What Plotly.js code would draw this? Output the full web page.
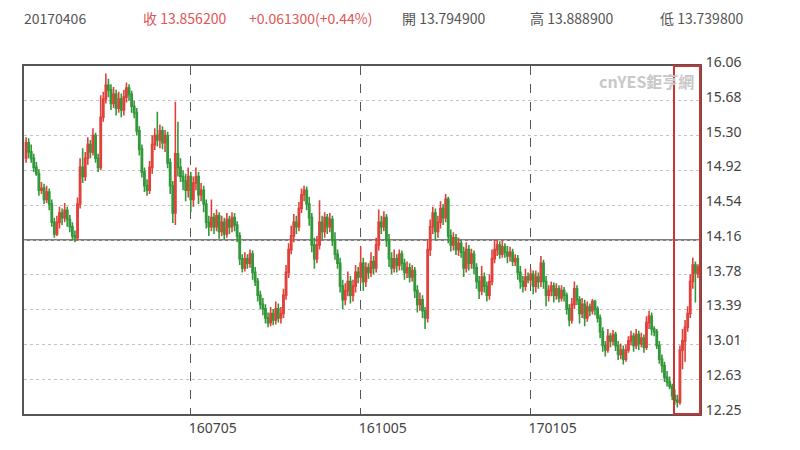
<!DOCTYPE html>
<html><head><meta charset="utf-8">
<script src="https://cdn.plot.ly/plotly-3.0.1.min.js"></script>
<style>html,body{margin:0;padding:0;background:#fff;}#chart{width:800px;height:450px;}</style>
</head><body><div id="chart"></div>
<script>
// ---- data (USD/ZAR daily, 2016-04-06 .. 2017-04-06) ----
const startDate = '2016-04-06';
const openV = [15.05,15.22,15.12,15.05,14.95,14.88,14.70,14.72,14.60,14.68,14.55,14.35,14.22,14.35,14.45,14.40,14.48,14.38,14.30,14.20,
14.18,14.55,14.95,14.85,15.05,15.20,15.12,15.30,15.05,14.95,15.50,15.70,15.85,15.80,15.65,15.75,15.60,15.70,15.58,15.72,
15.82,15.75,15.62,15.55,15.35,15.15,14.90,14.75,14.70,14.95,15.20,15.30,15.25,15.35,15.22,15.30,15.00,14.75,14.45,15.10,
14.95,14.85,14.80,14.70,14.85,14.60,14.78,14.85,14.65,14.70,14.55,14.35,14.30,14.40,14.30,14.42,14.25,14.35,14.22,14.38,
14.30,14.40,14.32,14.20,13.95,13.85,13.95,13.90,14.00,13.80,13.70,13.55,13.45,13.40,13.30,13.25,13.35,13.28,13.40,13.30,
13.35,13.55,13.80,14.05,14.20,14.35,14.30,14.50,14.65,14.70,14.55,14.40,14.10,13.95,14.10,14.35,14.25,14.40,14.30,14.38,
14.15,14.00,13.90,13.65,13.50,13.60,13.70,13.55,13.65,13.80,13.75,13.90,13.70,13.85,13.80,13.92,13.85,14.10,14.35,14.30,
14.40,14.15,13.95,13.85,13.95,13.88,14.00,13.90,13.80,13.85,13.75,13.82,13.60,13.45,13.50,13.38,13.30,14.05,14.30,14.45,
14.25,14.35,14.50,14.40,14.60,14.20,14.10,14.18,14.05,14.12,14.02,13.85,14.05,13.90,14.00,13.85,13.70,13.60,13.75,13.65,
13.55,13.70,13.95,14.05,14.10,14.00,14.08,14.02,13.98,14.02,13.92,13.95,13.80,13.70,13.65,13.75,13.72,13.78,13.65,13.75,
13.70,13.90,13.70,13.55,13.60,13.65,13.55,13.62,13.52,13.60,13.55,13.40,13.28,13.45,13.62,13.50,13.35,13.45,13.30,13.42,
13.38,13.48,13.40,13.30,13.15,13.00,12.95,13.10,13.05,13.12,13.00,12.90,12.95,12.85,12.95,13.05,13.10,13.00,13.12,13.02,
13.08,12.98,13.25,13.32,13.18,13.15,13.00,12.85,12.78,12.65,12.60,12.55,12.45,12.40,12.38,12.95,13.05,13.20,13.35,13.70,
13.88,13.7949];
const highV = [15.28,15.27,15.20,15.10,15.01,14.93,14.79,14.77,14.75,14.72,14.60,14.40,14.42,14.52,14.50,14.56,14.52,14.43,14.35,14.26,
14.62,15.05,15.16,15.12,15.28,15.25,15.38,15.33,15.10,15.74,15.78,15.98,15.92,15.86,15.83,15.80,15.78,15.76,15.80,15.88,
15.86,15.79,15.68,15.60,15.40,15.20,14.95,14.82,15.02,15.30,15.38,15.56,15.42,15.40,15.36,15.34,15.05,14.80,15.67,15.45,
15.05,14.92,14.88,14.95,14.90,14.85,14.95,14.90,14.78,14.75,14.60,14.42,14.60,14.45,14.49,14.46,14.42,14.40,14.45,14.42,
14.46,14.45,14.36,14.24,14.00,14.02,14.00,14.05,14.04,13.86,13.74,13.60,13.52,13.45,13.36,13.42,13.40,13.48,13.46,13.42,
13.62,13.88,14.12,14.31,14.44,14.42,14.57,14.72,14.75,14.74,14.63,14.45,14.18,14.20,14.59,14.42,14.46,14.44,14.45,14.42,
14.24,14.05,13.96,13.72,13.68,13.81,13.76,13.72,13.88,13.86,14.08,13.96,13.91,13.90,14.02,13.98,14.18,14.49,14.42,14.47,
14.44,14.22,14.02,14.05,14.00,14.05,14.04,13.95,13.92,13.90,13.88,13.86,13.66,13.58,13.55,13.42,14.16,14.38,14.52,14.50,
14.42,14.58,14.55,14.66,14.63,14.27,14.24,14.22,14.18,14.16,14.08,14.13,14.10,14.06,14.04,13.90,13.76,13.87,13.80,13.70,
13.78,14.05,14.16,14.16,14.14,14.15,14.12,14.09,14.08,14.06,14.00,13.99,13.87,13.76,13.84,13.80,13.84,13.82,13.82,13.80,
13.98,13.94,13.76,13.66,13.70,13.69,13.68,13.66,13.66,13.64,13.58,13.45,13.52,13.70,13.66,13.54,13.52,13.50,13.48,13.46,
13.51,13.50,13.43,13.34,13.20,13.05,13.18,13.14,13.17,13.15,13.05,13.02,13.00,13.01,13.10,13.16,13.14,13.18,13.16,13.14,
13.12,13.32,13.38,13.36,13.21,13.18,13.05,12.90,12.82,12.72,12.66,12.58,12.52,12.46,13.00,13.18,13.28,13.43,13.78,13.96,
13.92,13.8889];
const lowV = [15.00,15.05,15.00,14.90,14.86,14.64,14.66,14.55,14.56,14.48,14.30,14.18,14.20,14.28,14.32,14.35,14.30,14.24,14.15,14.13,
14.15,14.50,14.78,14.80,14.98,15.05,15.08,15.00,14.90,14.92,15.45,15.65,15.72,15.58,15.60,15.52,15.55,15.50,15.52,15.66,
15.68,15.55,15.49,15.30,15.08,14.84,14.68,14.64,14.66,14.88,15.14,15.18,15.16,15.15,15.12,14.94,14.66,14.34,14.32,14.85,
14.79,14.70,14.58,14.62,14.46,14.52,14.70,14.55,14.58,14.46,14.28,14.20,14.25,14.22,14.25,14.17,14.20,14.16,14.18,14.22,
14.24,14.25,14.13,13.88,13.80,13.81,13.84,13.85,13.72,13.65,13.48,13.40,13.33,13.24,13.20,13.21,13.22,13.23,13.25,13.24,
13.30,13.50,13.74,14.00,14.13,14.22,14.25,14.45,14.58,14.48,14.31,14.02,13.84,13.90,14.05,14.16,14.18,14.22,14.24,14.09,
13.94,13.84,13.58,13.40,13.44,13.54,13.46,13.48,13.58,13.68,13.68,13.60,13.64,13.73,13.75,13.78,13.80,14.04,14.22,14.25,
14.08,13.86,13.78,13.80,13.80,13.82,13.82,13.72,13.74,13.69,13.70,13.52,13.36,13.38,13.30,13.18,13.25,13.98,14.22,14.16,
14.18,14.28,14.32,14.35,14.12,14.03,14.04,13.99,13.98,13.96,13.75,13.80,13.82,13.84,13.78,13.62,13.51,13.55,13.58,13.48,
13.50,13.66,13.90,13.98,13.95,13.96,13.96,13.90,13.92,13.87,13.87,13.72,13.62,13.58,13.60,13.68,13.66,13.56,13.58,13.62,
13.64,13.62,13.43,13.48,13.54,13.47,13.50,13.47,13.48,13.48,13.34,13.21,13.24,13.40,13.44,13.24,13.30,13.21,13.26,13.32,
13.34,13.33,13.25,13.08,12.93,12.88,12.92,12.98,13.00,12.94,12.84,12.85,12.79,12.82,12.92,13.00,12.93,12.96,12.95,12.98,
12.92,12.95,13.18,13.11,13.10,12.96,12.80,12.70,12.60,12.55,12.52,12.40,12.35,12.32,12.35,12.74,12.82,13.15,13.30,13.62,
13.47,13.7398];
const closeV = [15.22,15.12,15.05,14.95,14.88,14.70,14.72,14.60,14.68,14.55,14.35,14.22,14.35,14.45,14.40,14.48,14.38,14.30,14.20,14.18,
14.55,14.95,14.85,15.05,15.20,15.12,15.30,15.05,14.95,15.50,15.70,15.85,15.80,15.65,15.75,15.60,15.70,15.58,15.72,15.82,
15.75,15.62,15.55,15.35,15.15,14.90,14.75,14.70,14.95,15.20,15.30,15.25,15.35,15.22,15.30,15.00,14.75,14.45,15.10,14.95,
14.85,14.80,14.70,14.85,14.60,14.78,14.85,14.65,14.70,14.55,14.35,14.30,14.40,14.30,14.42,14.25,14.35,14.22,14.38,14.30,
14.40,14.32,14.20,13.95,13.85,13.95,13.90,14.00,13.80,13.70,13.55,13.45,13.40,13.30,13.25,13.35,13.28,13.40,13.30,13.35,
13.55,13.80,14.05,14.20,14.35,14.30,14.50,14.65,14.70,14.55,14.40,14.10,13.95,14.10,14.35,14.25,14.40,14.30,14.38,14.15,
14.00,13.90,13.65,13.50,13.60,13.70,13.55,13.65,13.80,13.75,13.90,13.70,13.85,13.80,13.92,13.85,14.10,14.35,14.30,14.40,
14.15,13.95,13.85,13.95,13.88,14.00,13.90,13.80,13.85,13.75,13.82,13.60,13.45,13.50,13.38,13.30,14.05,14.30,14.45,14.25,
14.35,14.50,14.40,14.60,14.20,14.10,14.18,14.05,14.12,14.02,13.85,14.05,13.90,14.00,13.85,13.70,13.60,13.75,13.65,13.55,
13.70,13.95,14.05,14.10,14.00,14.08,14.02,13.98,14.02,13.92,13.95,13.80,13.70,13.65,13.75,13.72,13.78,13.65,13.75,13.70,
13.90,13.70,13.55,13.60,13.65,13.55,13.62,13.52,13.60,13.55,13.40,13.28,13.45,13.62,13.50,13.35,13.45,13.30,13.42,13.38,
13.48,13.40,13.30,13.15,13.00,12.95,13.10,13.05,13.12,13.00,12.90,12.95,12.85,12.95,13.05,13.10,13.00,13.12,13.02,13.08,
12.98,13.25,13.32,13.18,13.15,13.00,12.85,12.78,12.65,12.60,12.55,12.45,12.40,12.38,12.95,13.05,13.20,13.35,13.70,13.88,
13.7949,13.8562];
const yTickVals = [12.25,12.631,13.012,13.393,13.774,14.155,14.536,14.917,15.298,15.679,16.06];
const yTickText = ['12.25','12.63','13.01','13.39','13.78','14.16','14.54','14.92','15.30','15.68','16.06'];
const xTickVals = ['2016-07-05','2016-10-05','2017-01-05'];
const xTickText = ['160705','161005','170105'];
const baseLine = 14.155;

// trading-day calendar (weekdays)
const dates = [];
let d = new Date(startDate + 'T00:00:00Z');
while (dates.length < closeV.length) {
  const w = d.getUTCDay();
  if (w !== 0 && w !== 6) dates.push(d.toISOString().slice(0,10));
  d = new Date(d.getTime() + 86400000);
}

const trace = {
  type: 'candlestick', x: dates, open: openV, high: highV, low: lowV, close: closeV,
  increasing: {line: {color: '#e0413b', width: 1.6}, fillcolor: '#e0413b'},
  decreasing: {line: {color: '#33983a', width: 1.6}, fillcolor: '#33983a'},
  whiskerwidth: 0, hoverinfo: 'skip', showlegend: false
};

const P = (px) => (px - 24) / 676;
const Q = (py) => (414 - py) / 348;
const hdr = (txt, px, color) => ({text: txt, x: P(px), y: Q(18), xref: 'paper', yref: 'paper',
  xanchor: 'left', yanchor: 'middle', showarrow: false,
  font: {family: '"Noto Sans CJK TC", "Noto Sans", sans-serif', size: 14, color: color}});

const layout = {
  width: 800, height: 450,
  margin: {l: 24, r: 100, t: 66, b: 36},
  paper_bgcolor: '#ffffff', plot_bgcolor: '#ffffff',
  showlegend: false,
  xaxis: {
    type: 'date', range: ['2016-04-05 05:00', '2017-04-06 19:00'],
    rangebreaks: [{bounds: ['sat', 'mon']}],
    rangeslider: {visible: false},
    tickmode: 'array', tickvals: xTickVals, ticktext: xTickText,
    showgrid: true, gridcolor: '#555555', griddash: 'dash', gridwidth: 1,
    showline: true, linecolor: '#555555', linewidth: 2, mirror: true,
    ticks: '', ticklabelshift: 22, ticklabelstandoff: 0,
    tickfont: {family: '"Noto Sans", sans-serif', size: 14, color: '#444'},
    zeroline: false, fixedrange: true
  },
  yaxis: {
    side: 'right', range: [12.249, 16.061],
    tickmode: 'array', tickvals: yTickVals, ticktext: yTickText,
    showgrid: true, gridcolor: '#c4c4c4', griddash: 'dot', gridwidth: 1,
    showline: true, linecolor: '#555555', linewidth: 2, mirror: true,
    ticks: '', ticklabelshift: -4, ticklabelstandoff: 1,
    tickfont: {family: '"Noto Sans", sans-serif', size: 14, color: '#444'},
    zeroline: false, fixedrange: true
  },
  shapes: [
    {type: 'line', xref: 'paper', yref: 'y', x0: 0, x1: 1, y0: baseLine, y1: baseLine,
     line: {color: '#555555', width: 1.5}, layer: 'below'},
    {type: 'rect', xref: 'paper', yref: 'paper', x0: P(674), x1: P(700), y0: 0, y1: 1,
     line: {color: '#cc3333', width: 2}, fillcolor: 'rgba(0,0,0,0)', layer: 'above'}
  ],
  annotations: [
    hdr('20170406', 22, '#555555'),
    hdr('收 13.856200', 141, '#e05555'),
    hdr('+0.061300(+0.44%)', 247, '#e05555'),
    hdr('開 13.794900', 400, '#555555'),
    hdr('高 13.888900', 528, '#555555'),
    hdr('低 13.739800', 658, '#555555'),
    {text: '<b>cnYES鉅亨網</b>', x: P(696), y: Q(81), xref: 'paper', yref: 'paper',
     xanchor: 'right', yanchor: 'middle', showarrow: false,
     font: {family: '"Noto Sans CJK TC", sans-serif', size: 16, color: '#c8c8c8'}}
  ]
};

Plotly.newPlot('chart', [trace], layout, {displayModeBar: false, staticPlot: true});
</script></body></html>
